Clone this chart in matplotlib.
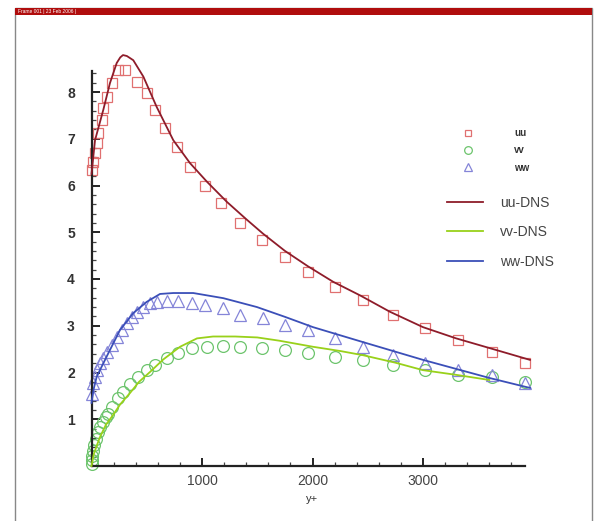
import matplotlib
matplotlib.use("Agg")
import matplotlib.pyplot as plt
from matplotlib.patches import Rectangle
from matplotlib.ticker import FixedLocator

# ---- data ----
uu_x = [2, 16, 32, 47, 62, 92, 107, 137, 183, 243, 303, 409, 499, 575, 665, 771, 891,
        1027, 1174, 1344, 1543, 1751, 1960, 2204, 2457, 2730, 3018, 3317, 3624, 3923]
uu_y = [6.33, 6.51, 6.69, 6.90, 7.12, 7.40, 7.65, 7.90, 8.19, 8.47, 8.47, 8.22, 7.97, 7.62,
        7.22, 6.83, 6.40, 5.99, 5.62, 5.20, 4.83, 4.47, 4.15, 3.82, 3.55, 3.23, 2.95, 2.70,
        2.44, 2.20]

vv_x = [0, 3, 8, 15, 25, 40, 60, 80, 104, 130, 150, 185, 240, 285, 348, 421, 502, 575,
        683, 783, 909, 1045, 1190, 1344, 1543, 1751, 1960, 2204, 2457, 2730, 3018, 3317,
        3624, 3923]
vv_y = [0.05, 0.12, 0.22, 0.33, 0.45, 0.58, 0.72, 0.84, 0.95, 1.05, 1.12, 1.27, 1.45, 1.59,
        1.75, 1.91, 2.05, 2.17, 2.31, 2.42, 2.52, 2.55, 2.56, 2.55, 2.52, 2.48, 2.42, 2.33,
        2.27, 2.16, 2.05, 1.95, 1.91, 1.80]

ww_x = [2, 16, 32, 47, 77, 107, 137, 183, 228, 273, 318, 364, 409, 469, 529, 590, 680,
        786, 907, 1027, 1187, 1344, 1549, 1751, 1960, 2204, 2457, 2730, 3018, 3317, 3624,
        3923]
ww_y = [1.55, 1.77, 1.91, 2.05, 2.20, 2.30, 2.44, 2.59, 2.77, 2.91, 3.05, 3.19, 3.30, 3.41,
        3.48, 3.51, 3.54, 3.54, 3.49, 3.44, 3.37, 3.23, 3.16, 3.02, 2.91, 2.74, 2.55, 2.37,
        2.20, 2.05, 1.95, 1.78]

uu_dns_x = [0, 32, 107, 167, 228, 260, 285, 320, 378, 469, 590, 740, 891, 1045, 1225, 1400,
            1552, 1751, 1960, 2187, 2430, 2700, 3000, 3300, 3606, 3968]
uu_dns_y = [6.25, 6.97, 7.62, 8.19, 8.62, 8.74, 8.79, 8.77, 8.68, 8.33, 7.68, 6.97, 6.48,
            6.08, 5.65, 5.28, 4.97, 4.60, 4.27, 3.94, 3.65, 3.30, 2.97, 2.73, 2.52, 2.27]

vv_dns_x = [0, 20, 50, 77, 130, 195, 260, 348, 430, 529, 650, 801, 955, 1100, 1300, 1500,
            1700, 2005, 2250, 2457, 2750, 3000, 3300, 3600]
vv_dns_y = [0.0, 0.25, 0.45, 0.62, 0.88, 1.09, 1.32, 1.56, 1.80, 2.01, 2.28, 2.55, 2.73,
            2.77, 2.77, 2.75, 2.68, 2.55, 2.46, 2.37, 2.21, 2.05, 1.95, 1.84]

ww_dns_x = [0, 20, 47, 137, 258, 378, 499, 620, 740, 921, 1193, 1497, 1751, 2005, 2457,
            3000, 3606, 3968]
ww_dns_y = [1.35, 1.65, 1.91, 2.34, 2.91, 3.27, 3.51, 3.68, 3.70, 3.70, 3.59, 3.40, 3.19,
            2.97, 2.65, 2.27, 1.88, 1.67]

x_ticks = [1000, 2000, 3000]
y_ticks = [1, 2, 3, 4, 5, 6, 7, 8]

# ---- figure ----
W, H = 597, 521
fig = plt.figure(figsize=(W / 100, H / 100), dpi=100)
fig.patch.set_facecolor("white")

def fx(px):
    return px / W

def fy(py):
    return 1 - py / H

# outer frame
fig.patches.append(Rectangle((fx(15), fy(530)), fx(592) - fx(15), fy(8) - fy(530),
                             transform=fig.transFigure, fill=False, edgecolor="#888888",
                             linewidth=1.0))
fig.patches.append(Rectangle((fx(15), fy(15)), fx(592) - fx(15), fy(8) - fy(15),
                             transform=fig.transFigure, facecolor="#b00d0d",
                             edgecolor="none"))
fig.text(fx(18), fy(11.5), "Frame 001 | 23 Feb 2006 |", color="white", fontsize=3.5,
         va="center", ha="left", family="Liberation Sans")

x0, x1 = 0, 3990
y0, y1 = 0, 8.9
ax_left = 91.5
ax_bottom = 466
ppx = 0.1105
ppy = 46.75
ax = fig.add_axes([fx(ax_left), fy(ax_bottom), (x1 - x0) * ppx / W, (y1 - y0) * ppy / H])
ax.set_xlim(x0, x1)
ax.set_ylim(y0, y1)
ax.patch.set_alpha(0)

for s in ["top", "right"]:
    ax.spines[s].set_visible(False)
for s in ["left", "bottom"]:
    ax.spines[s].set_linewidth(1.6)
    ax.spines[s].set_color("#222222")
ax.spines["left"].set_bounds(0, 8.45)
ax.spines["bottom"].set_bounds(0, 3925)

ax.xaxis.set_major_locator(FixedLocator(x_ticks))
ax.xaxis.set_minor_locator(FixedLocator([v for v in range(200, 3900, 200) if v % 1000]))
ax.yaxis.set_major_locator(FixedLocator(y_ticks))
ax.yaxis.set_minor_locator(FixedLocator([i * 0.2 for i in range(1, 43) if i % 5]))
ax.tick_params(which="major", direction="in", length=6, width=1.4, color="#222222")
ax.tick_params(which="minor", direction="in", length=3, width=0.9, color="#444444")
ax.tick_params(axis="x", which="major", pad=6, labelsize=10, labelcolor="#444444")
ax.tick_params(axis="y", which="major", pad=12, labelsize=10, labelcolor="#333333")
for lab in ax.get_xticklabels() + ax.get_yticklabels():
    lab.set_family("Liberation Sans")
for lab in ax.get_yticklabels():
    lab.set_fontweight("bold")

ax.set_xlabel("y+", family="Liberation Sans", fontsize=8, color="#333333", labelpad=4)

# DNS lines
l1, = ax.plot(uu_dns_x, uu_dns_y, color="#8e1c2a", lw=1.3, clip_on=False, zorder=3)
l2, = ax.plot(vv_dns_x, vv_dns_y, color="#99d11a", lw=1.3, clip_on=False, zorder=3)
l3, = ax.plot(ww_dns_x, ww_dns_y, color="#3b4fb8", lw=1.3, clip_on=False, zorder=3)

# markers
m1, = ax.plot(uu_x, uu_y, ls="none", marker="s", ms=7, mfc="none", mec="#e07070",
              mew=0.9, clip_on=False, zorder=2)
m2, = ax.plot(vv_x, vv_y, ls="none", marker="o", ms=8.5, mfc="none", mec="#6cc46c",
              mew=0.9, clip_on=False, zorder=2)
m3, = ax.plot(ww_x, ww_y, ls="none", marker="^", ms=8, mfc="none", mec="#8585d8",
              mew=0.9, clip_on=False, zorder=2)

leg1 = ax.legend([m1, m2, m3], ["uu", "vv", "ww"], loc="upper left",
                 bbox_to_anchor=(fx(458), fy(128)), bbox_transform=fig.transFigure,
                 frameon=False, borderpad=0, borderaxespad=0, handlelength=2.0,
                 handletextpad=3.8, labelspacing=0.75, markerscale=0.65,
                 prop={"family": "Liberation Sans", "size": 7, "weight": "bold"})
for t in leg1.get_texts():
    t.set_color("#333333")
ax.add_artist(leg1)

leg2 = ax.legend([l1, l2, l3], ["uu-DNS", "vv-DNS", "ww-DNS"], loc="upper left",
                 bbox_to_anchor=(fx(447), fy(196)), bbox_transform=fig.transFigure,
                 frameon=False, borderpad=0, borderaxespad=0, handlelength=2.6,
                 handletextpad=1.2, labelspacing=1.1,
                 prop={"family": "Liberation Sans", "size": 10})
for t in leg2.get_texts():
    t.set_color("#444444")

fig.savefig("out.png", dpi=100)
